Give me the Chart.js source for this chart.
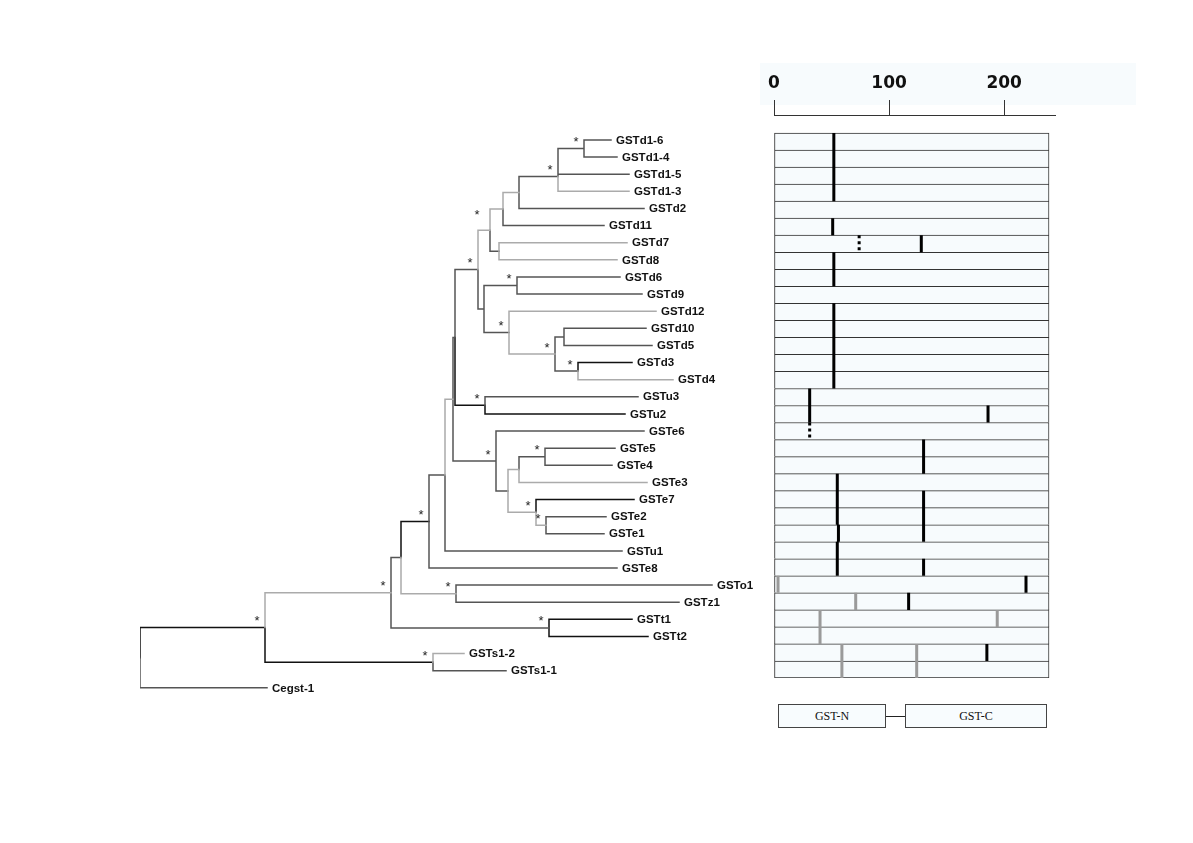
<!DOCTYPE html>
<html>
<head>
<meta charset="utf-8">
<script src="https://cdn.jsdelivr.net/npm/chart.js@4.4.1/dist/chart.umd.min.js"></script>
<style>
  html,body{margin:0;padding:0;background:#fff;}
  #wrap{position:relative;width:1193px;height:843px;overflow:hidden;background:#fff;}
  canvas{position:absolute;left:0;top:0;}
  .tint{position:absolute;left:760px;top:63px;width:376px;height:42px;background:#f7fbfd;}
  .dom{position:absolute;top:704px;height:22px;border:1px solid #444;background:#f8fcfe;
       font-family:"Liberation Serif","Times New Roman",serif;font-size:12px;color:#111;
       display:flex;align-items:center;justify-content:center;box-sizing:content-box;}
  .link{position:absolute;top:716px;left:886px;width:19px;height:1px;background:#222;}
</style>
</head>
<body>
<div id="wrap">
  <div class="tint"></div>
  <canvas id="tree" width="770" height="843"></canvas>
  <canvas id="genes" width="1193" height="843"></canvas>
  <div class="dom" style="left:778px;width:106px;">GST-N</div>
  <div class="link"></div>
  <div class="dom" style="left:905px;width:140px;">GST-C</div>
</div>
<script>
// ---------------- DATA ----------------
// Tree tips, top to bottom
const taxa = ['GSTd1-6','GSTd1-4','GSTd1-5','GSTd1-3','GSTd2','GSTd11','GSTd7','GSTd8','GSTd6','GSTd9',
  'GSTd12','GSTd10','GSTd5','GSTd3','GSTd4','GSTu3','GSTu2','GSTe6','GSTe5','GSTe4','GSTe3','GSTe7',
  'GSTe2','GSTe1','GSTu1','GSTe8','GSTo1','GSTz1','GSTt1','GSTt2','GSTs1-2','GSTs1-1','Cegst-1'];
// distance of each tip from the root (tree units)
const tipDepth = [471,477,489,489,504,464,487,477,480,502,516,506,512,492,533,498,485,504,475,472,507,494,
  466,464,482,477,572,539,492,508,324,366,127];
// internal nodes (children listed before parents)
const innerNodes = ['A','Bp','B','C','D','F','E','I','L','M','K','J','H','G','O','N','Y','W','Z','X','V','R',
  'U','S','T','OZ','DD','TT','BB','SS','AA','Root'];
const innerChildren = [
  ['GSTd1-6','GSTd1-4'],['A','GSTd1-5'],['Bp','GSTd1-3'],['B','GSTd2'],['C','GSTd11'],['GSTd7','GSTd8'],
  ['D','F'],['GSTd6','GSTd9'],['GSTd10','GSTd5'],['GSTd3','GSTd4'],['L','M'],['GSTd12','K'],['I','J'],
  ['E','H'],['GSTu3','GSTu2'],['G','O'],['GSTe5','GSTe4'],['Y','GSTe3'],['GSTe2','GSTe1'],['GSTe7','Z'],
  ['W','X'],['GSTe6','V'],['N','R'],['U','GSTu1'],['S','GSTe8'],['GSTo1','GSTz1'],['T','OZ'],
  ['GSTt1','GSTt2'],['DD','TT'],['GSTs1-2','GSTs1-1'],['BB','SS'],['AA','Cegst-1']];
const innerDepth = [444,418,418,379,363,359,350,377,424,438,415,369,344,338,345,315,405,379,406,396,368,356,
  313,305,289,316,261,409,251,293,125,0];
// bootstrap-supported nodes (*)
const innerSupport = [1,0,1,0,0,0,1,1,0,1,1,1,0,1,1,0,1,0,1,1,0,1,0,0,1,1,0,1,1,1,1,0];
// branch tone for each child edge: k = black, d = dark grey, l = light grey
const innerTones = [['d','d'],['d','d'],['d','l'],['d','d'],['l','d'],['l','l'],['l','d'],['d','d'],['d','d'],
  ['k','l'],['d','d'],['l','l'],['d','d'],['l','d'],['d','k'],['d','k'],['d','d'],['d','l'],['d','d'],['k','l'],
  ['l','l'],['d','d'],['d','d'],['l','d'],['d','d'],['d','d'],['k','l'],['k','k'],['d','d'],['l','d'],['l','k'],['k','d']];

// Gene structure panel (first 32 taxa), positions in amino acids
const geneRows = taxa.slice(0, 32);
const geneLength = 239;
const axisTicks = [0, 100, 200];
const intronBlack = [[52],[52],[52],[52],[],[51],[128],[52],[52],[],[52],[52],[52],[52],[52],[31],[31,186],[],
  [130],[130],[55],[55,130],[55,130],[56,130],[55],[55,130],[219],[117],[],[],[185],[]];
const intronGrey = [[],[],[],[],[],[],[],[],[],[],[],[],[],[],[],[],[],[],[],[],[],[],[],[],[],[],[3.5],[71],
  [40,194],[40],[59,124],[59,124]];
const intronDotted = [[],[],[],[],[],[],[74],[],[],[],[],[],[],[],[],[],[],[31],[],[],[],[],[],[],[],[],[],[],[],[],[],[]];

// ---------------- TREE ----------------
const pos = {};
taxa.forEach((t, i) => { pos[t] = {d: tipDepth[i], y: i}; });
innerNodes.forEach((n, k) => {
  const [a, b] = innerChildren[k];
  pos[n] = {d: innerDepth[k], y: (pos[a].y + pos[b].y) / 2};
});
const segs = {k: [], d: [], l: []};
innerNodes.forEach((n, k) => {
  innerChildren[k].forEach((c, j) => {
    segs[innerTones[k][j]].push(
      {x: pos[n].d, y: pos[n].y}, {x: pos[n].d, y: pos[c].y}, {x: pos[c].d, y: pos[c].y}, {x: null, y: null});
  });
});
const toneColor = {k: '#111111', d: '#555555', l: '#ababab'};
const starNudge = {E: [-5, -9]};

const treeLabels = {
  id: 'treeLabels',
  afterDatasetsDraw(chart) {
    const {ctx, scales: {x, y}} = chart;
    ctx.save();
    ctx.fillStyle = '#111';
    ctx.font = 'bold 11.5px "Liberation Sans", Arial, sans-serif';
    ctx.textBaseline = 'middle';
    ctx.textAlign = 'left';
    taxa.forEach((t, i) => {
      ctx.fillText(t, x.getPixelForValue(tipDepth[i]) + 5, y.getPixelForValue(i) + 0.5);
    });
    ctx.font = '13px "Liberation Sans", Arial, sans-serif';
    ctx.fillStyle = '#222';
    ctx.textAlign = 'center';
    innerNodes.forEach((n, k) => {
      if (!innerSupport[k]) return;
      const nd = starNudge[n] || [0, 0];
      ctx.fillText('*', x.getPixelForValue(pos[n].d) - 8 + nd[0], y.getPixelForValue(pos[n].y) - 6 + nd[1]);
    });
    ctx.restore();
  }
};

const mkLine = (tone) => ({
  data: segs[tone], borderColor: toneColor[tone], borderWidth: 1.5, pointRadius: 0,
  tension: 0, spanGaps: false, fill: false, borderCapStyle: 'square', borderJoinStyle: 'miter'
});

new Chart(document.getElementById('tree'), {
  type: 'line',
  data: {datasets: [mkLine('l'), mkLine('d'), mkLine('k')]},
  options: {
    responsive: false, animation: false, events: [],
    layout: {padding: {left: 140, right: 10, top: 122.88, bottom: 138.04}},
    plugins: {legend: {display: false}, tooltip: {enabled: false}},
    scales: {
      x: {type: 'linear', min: 0, max: 620, display: false},
      y: {type: 'linear', reverse: true, min: -1, max: 33, display: false}
    }
  },
  plugins: [treeLabels]
});

// ---------------- GENE STRUCTURE ----------------
function marks(list) {
  const out = [];
  list.forEach((arr, r) => arr.forEach(p => {
    out.push({x: p, y: r - 0.5}, {x: p, y: r + 0.5}, {x: p, y: null});
  }));
  return out;
}

new Chart(document.getElementById('genes'), {
  type: 'bar',
  data: {
    datasets: [
      {
        type: 'bar', indexAxis: 'y',
        data: geneRows.map((g, i) => ({x: [0, geneLength], y: i})),
        backgroundColor: '#f7fbfd', borderColor: '#333',
        borderWidth: (c) => ({top: 1, left: 1, right: 1, bottom: c.dataIndex === geneRows.length - 1 ? 1 : 0}),
        borderSkipped: false, barPercentage: 1, categoryPercentage: 1, order: 2
      },
      {type: 'line', indexAxis: 'x', data: marks(intronGrey), borderColor: '#9a9a9a', borderWidth: 3, pointRadius: 0,
       spanGaps: false, borderCapStyle: 'butt', order: 1},
      {type: 'line', indexAxis: 'x', data: marks(intronBlack), borderColor: '#000', borderWidth: 3, pointRadius: 0,
       spanGaps: false, borderCapStyle: 'butt', order: 1},
      {type: 'line', indexAxis: 'x', data: marks(intronDotted), borderColor: '#000', borderWidth: 3, pointRadius: 0,
       borderDash: [3, 3], spanGaps: false, borderCapStyle: 'butt', order: 1}
    ]
  },
  options: {
    indexAxis: 'y',
    responsive: false, animation: false, events: [],
    layout: {padding: {left: 774, right: 138, top: 70, bottom: 165}},
    plugins: {legend: {display: false}, tooltip: {enabled: false}},
    scales: {
      x: {
        type: 'linear', position: 'top', min: 0, max: 244.2, offset: false,
        afterFit: (s) => { s.height = 45; },
        afterBuildTicks: (s) => { s.ticks = axisTicks.map(v => ({value: v})); },
        grid: {drawOnChartArea: false, drawTicks: true, tickLength: 15, color: '#333', lineWidth: 1, offset: false},
        border: {display: true, color: '#333', width: 1},
        ticks: {font: {family: '"DejaVu Sans", Verdana, sans-serif', weight: 'bold', size: 17},
                color: '#111', padding: 6, maxRotation: 0, callback: (v) => String(v)}
      },
      y: {type: 'linear', reverse: true, min: -1.557, max: 31.5, display: false, offset: false,
          grid: {offset: false}}
    }
  }
});
</script>
</body>
</html>
